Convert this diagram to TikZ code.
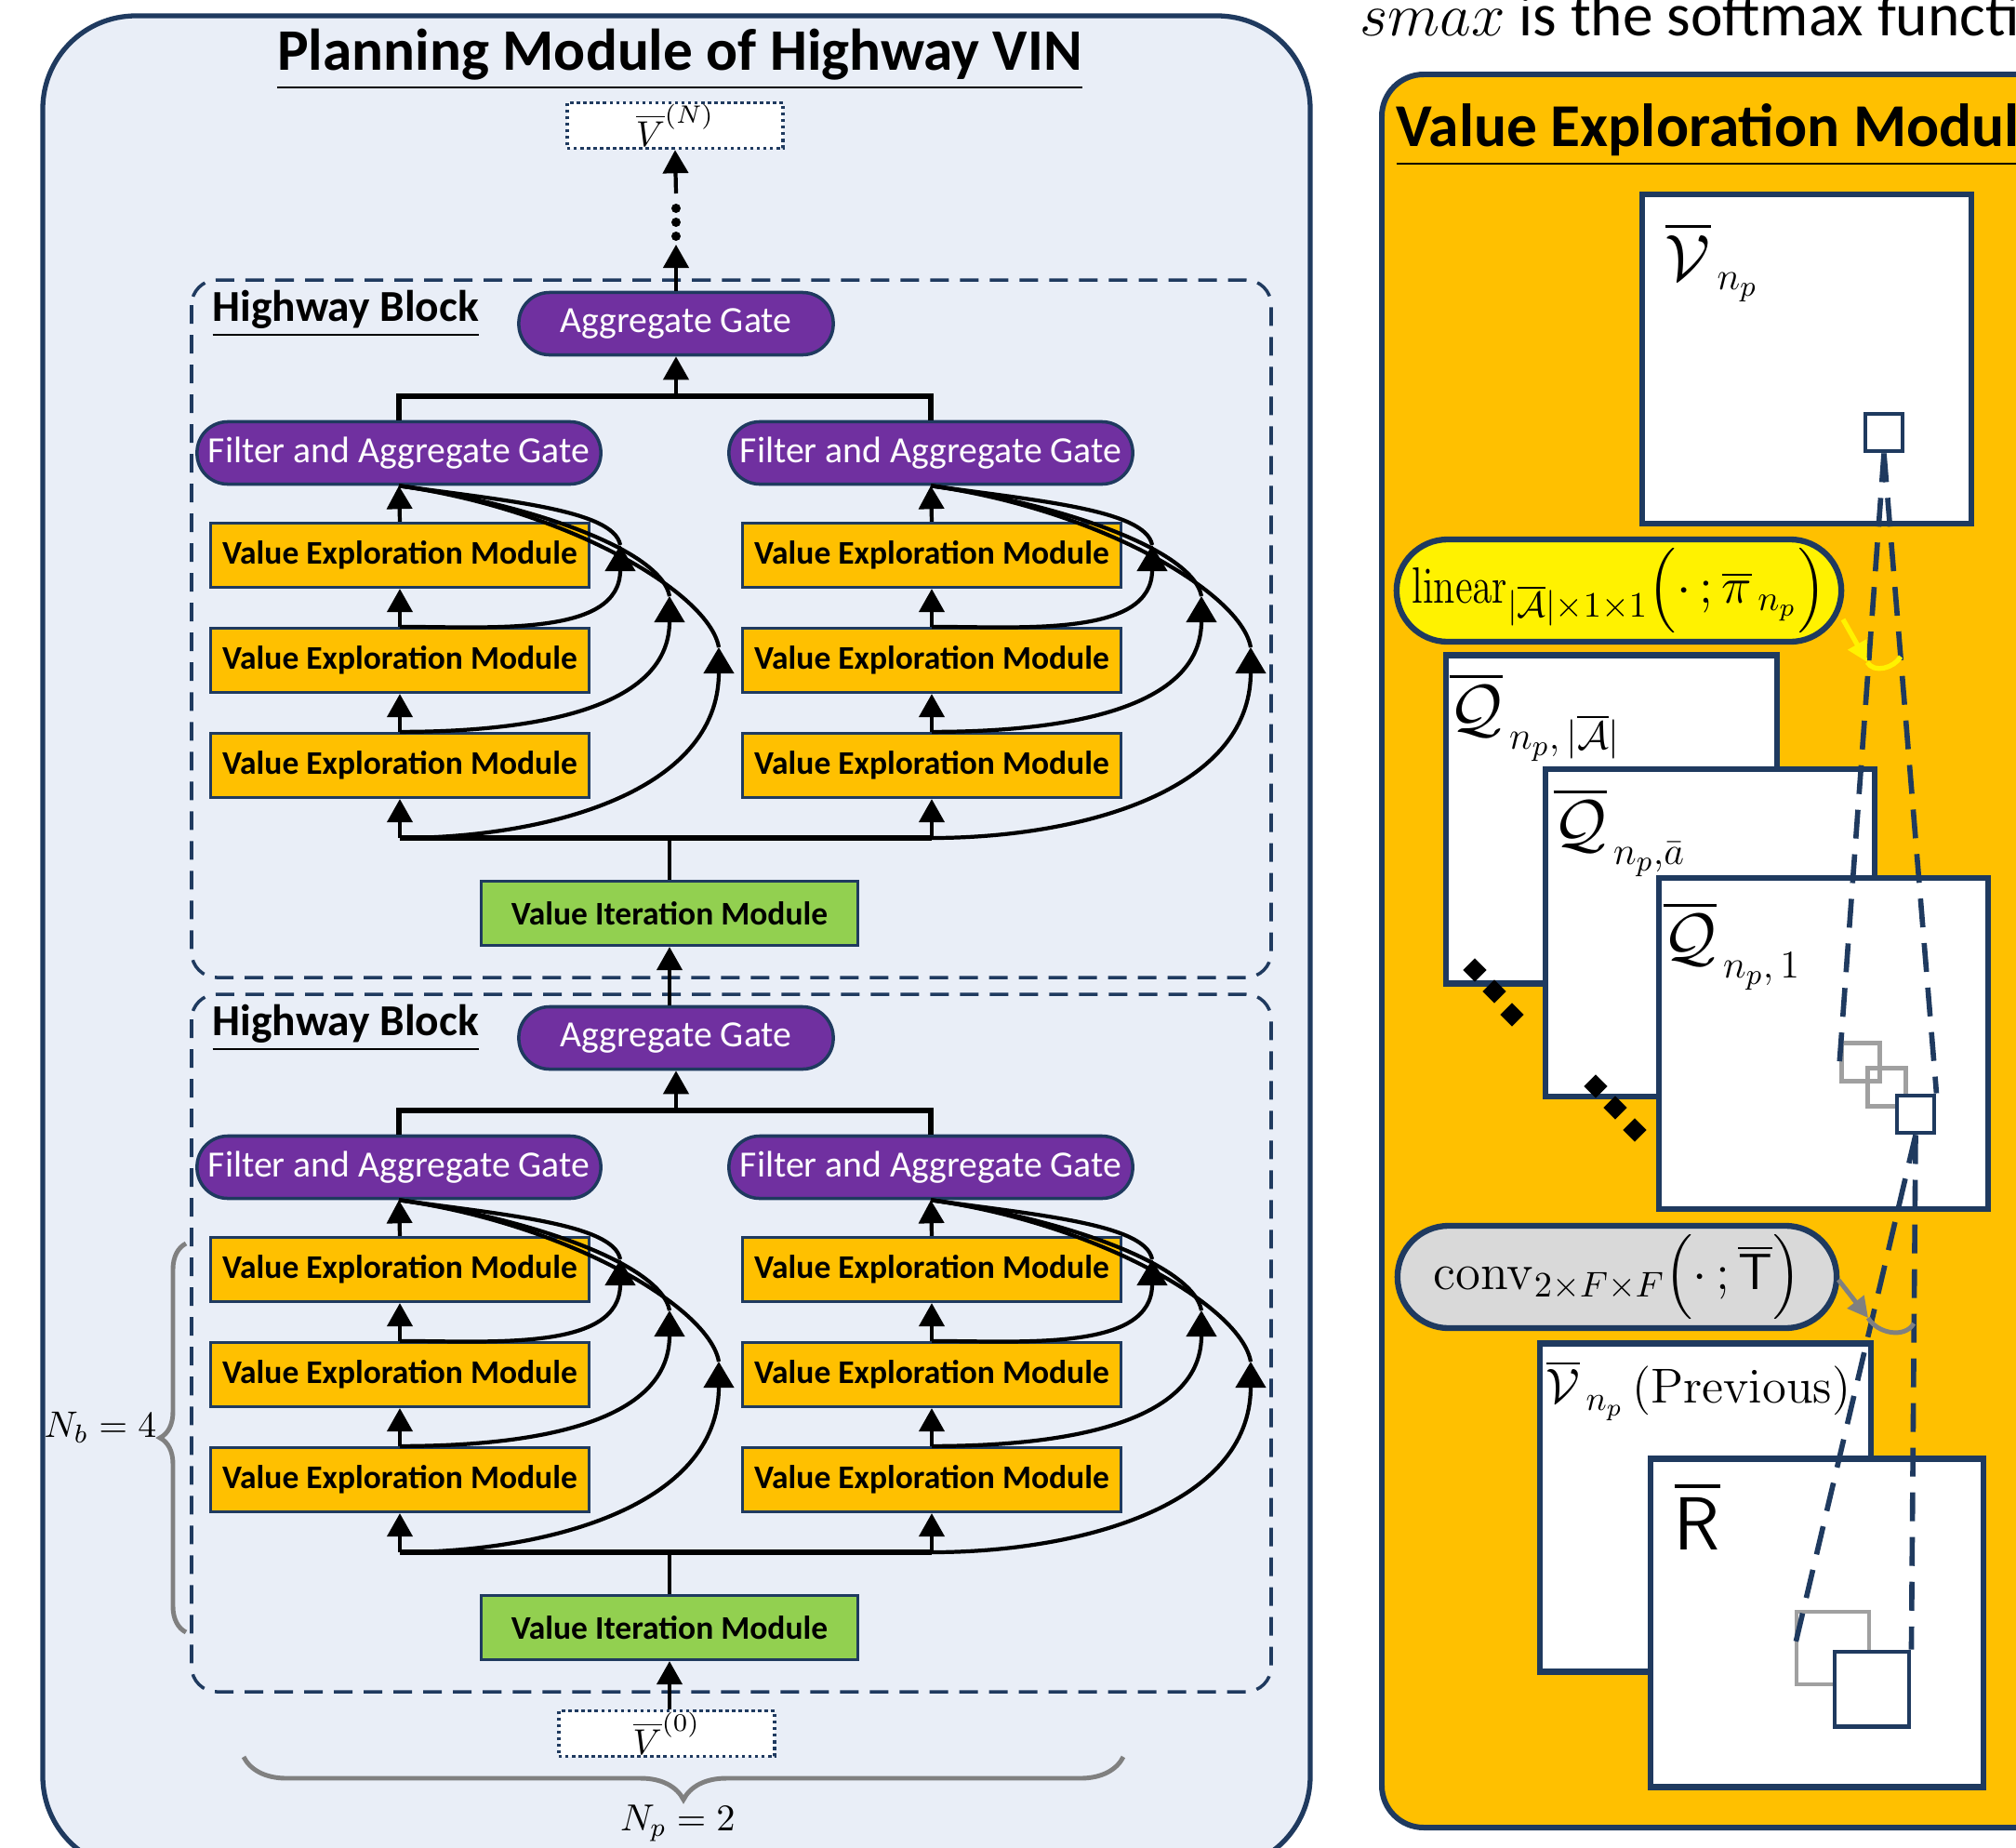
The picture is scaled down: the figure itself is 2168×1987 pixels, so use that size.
\RequirePackage{fix-cm}
\documentclass[tikz,border=0pt]{standalone}
\usepackage{amsmath}
\usepackage{graphicx}
\usepackage[no-math]{fontspec}
\setmainfont{Carlito}
\usetikzlibrary{arrows.meta,shapes.geometric,decorations.pathreplacing}
\definecolor{navy}{HTML}{1F3A5F}
\definecolor{panelblue}{HTML}{E9EEF7}
\definecolor{gatepurple}{HTML}{7030A0}
\definecolor{modorange}{HTML}{FFC000}
\definecolor{modgreen}{HTML}{92D050}
\definecolor{pillgray}{HTML}{D9D9D9}
\definecolor{bracegray}{HTML}{808080}
\DeclareMathSizes{20}{20}{12}{9}
\newcommand{\lsub}[1]{_{\raisebox{-0.3ex}{$\scriptstyle #1$}}}

\begin{document}
\begin{tikzpicture}[x=0.01cm,y=-0.01cm]
  \tikzstyle{gate}=[draw=navy,line width=1pt,fill=gatepurple,text=white,rounded corners=0.33cm,
    minimum height=0.67cm,inner sep=0pt,font=\fontsize{11.3}{13}\selectfont]
  \tikzstyle{vem}=[draw=navy,line width=0.9pt,fill=modorange,minimum width=4.06cm,minimum height=0.69cm,
    inner sep=0pt,font=\fontsize{10.1}{12}\selectfont\bfseries]
  \tikzstyle{vim}=[vem,fill=modgreen,minimum width=4.05cm]
  \tikzstyle{vbox}=[draw=navy,densely dotted,line width=1pt,fill=white,minimum width=2.32cm,
    minimum height=0.49cm,inner sep=0pt,font=\fontsize{11}{12}\selectfont]
  \tikzstyle{arr}=[line width=1.2pt,-{Triangle[length=0.25cm,width=0.27cm]}]
  \tikzstyle{skiparr}=[line width=1.2pt,-{Triangle[length=0.28cm,width=0.32cm]}]
  \tikzstyle{bus}=[line width=1.7pt]
  \tikzstyle{skip}=[line width=1.2pt,out=100,in=-8,out looseness=0.4,in looseness=1.2]
  \tikzstyle{hblock}=[draw=navy,line width=1pt,dash pattern=on 0.2cm off 0.12cm,rounded corners=0.27cm]
  \tikzstyle{mapbox}=[draw=navy,line width=1.8pt,fill=white,inner sep=0pt]
  \tikzstyle{cell}=[draw=navy,line width=1.4pt,fill=white,inner sep=0pt]
  \tikzstyle{graycell}=[draw=bracegray!75,line width=1.3pt,inner sep=0pt]
  \tikzstyle{ray}=[draw=navy,line width=1.6pt,dash pattern=on 0.31cm off 0.17cm]
  \tikzstyle{dotmark}=[diamond,fill=black,inner sep=0pt,minimum size=0.26cm]
  \tikzstyle{braceline}=[draw=bracegray,line width=1.4pt,decorate]
  \tikzstyle{maplabel}=[anchor=north west,inner sep=0pt]

  \useasboundingbox (0,0) rectangle (2168,1987);

  % left panel
  \draw[draw=navy,line width=1.5pt,fill=panelblue,rounded corners=1cm] (46,17) rectangle (1409,2010);
  \node[anchor=base,font=\fontsize{18}{21}\selectfont\bfseries] (title) at (731,75)
    {\underline{Planning Module of Highway VIN}};
  \node[vbox] (vN) at (726,135) {$\overline{V}^{(N)}$};

  \foreach \b/\dy in {1/0,2/768}{
    \begin{scope}[shift={(0,\dy)}]
      \draw[hblock] (206,301) rectangle (1367,1051);
      \node[anchor=base west,inner sep=0pt,font=\fontsize{13.5}{15}\selectfont\bfseries] (hbt\b) at (228,345)
        {\underline{Highway Block}};
      \node[gate,minimum width=3.38cm] (ag\b) at (727,348) {Aggregate Gate};
      \node[gate,minimum width=4.34cm] (fl\b) at (429,487) {Filter and Aggregate Gate};
      \node[gate,minimum width=4.34cm] (fr\b) at (1001,487) {Filter and Aggregate Gate};
      \node[vem] (la\b) at (430,597) {Value Exploration Module};
      \node[vem] (lb\b) at (430,710) {Value Exploration Module};
      \node[vem] (lc\b) at (430,823) {Value Exploration Module};
      \node[vem] (ra\b) at (1002,597) {Value Exploration Module};
      \node[vem] (rb\b) at (1002,710) {Value Exploration Module};
      \node[vem] (rc\b) at (1002,823) {Value Exploration Module};
      \node[vim] (vim\b) at (720,982) {Value Iteration Module};
      % gates
      \coordinate (tm\b) at (727,426);
      \coordinate (tr\b) at (1001,426);
      \draw[bus] (fl\b.north) |- (tr\b) -- (fr\b.north);
      \draw[arr] (tm\b) -- (ag\b.south);
      % bus from value iteration
      \coordinate (bl\b) at (430,901);
      \coordinate (bm\b) at (720,901);
      \coordinate (br\b) at (1002,901);
      \draw[bus] (bl\b) -- (br\b);
      \draw[line width=1.2pt] (vim\b.north) -- (bm\b);
      \draw[arr] (bl\b) -- (lc\b.south);
      \draw[arr] (br\b) -- (rc\b.south);
      \draw[arr] (lc\b.north) -- (lb\b.south);
      \draw[arr] (lb\b.north) -- (la\b.south);
      \draw[arr] (la\b.north) -- (fl\b.south);
      \draw[arr] (rc\b.north) -- (rb\b.south);
      \draw[arr] (rb\b.north) -- (ra\b.south);
      \draw[arr] (ra\b.north) -- (fr\b.south);
      % skip connections
      \coordinate (ka\b) at (667,586);
      \coordinate (kb\b) at (720,641);
      \coordinate (kc\b) at (773,696);
      \coordinate (qa\b) at (1239,586);
      \coordinate (qb\b) at (1292,641);
      \coordinate (qc\b) at (1345,696);
      \draw[skiparr] (lb\b.north) to[out=0,in=-90] (ka\b);
      \draw[skiparr] (lc\b.north) to[out=0,in=-90] (kb\b);
      \draw[skiparr] (bl\b) to[out=0,in=-90] (kc\b);
      \draw[skip] (ka\b) to (fl\b.south);
      \draw[skip] (kb\b) to (fl\b.south);
      \draw[skip] (kc\b) to (fl\b.south);
      \draw[skiparr] (rb\b.north) to[out=0,in=-90] (qa\b);
      \draw[skiparr] (rc\b.north) to[out=0,in=-90] (qb\b);
      \draw[skiparr] (br\b) to[out=0,in=-90] (qc\b);
      \draw[skip] (qa\b) to (fr\b.south);
      \draw[skip] (qb\b) to (fr\b.south);
      \draw[skip] (qc\b) to (fr\b.south);
    \end{scope}
  }

  % between blocks and to the output
  \draw[arr] (vim1.south |- ag2.north) -- (vim1.south);
  \coordinate (up1) at (727,263);
  \coordinate (up2) at (727,208);
  \draw[arr] (ag1.north) -- (up1);
  \fill (727,224) circle (0.05cm) (727,239) circle (0.05cm) (727,254) circle (0.05cm);
  \draw[arr] (up2) -- (vN.south);
  \node[vbox] (v0) at (717,1864) {$\overline{V}^{(0)}$};
  \draw[arr] (vim2.south |- v0.north) -- (vim2.south);

  % braces
  \draw[braceline,decoration={brace,amplitude=0.28cm}] (200,1755) -- (200,1337);
  \node[font=\fontsize{11.3}{13}\selectfont] (nb) at (108,1535) {$N_b=4$};
  \draw[braceline,decoration={brace,amplitude=0.46cm}] (1208,1889) -- (262,1889);
  \node[font=\fontsize{11.5}{13}\selectfont] (np) at (729,1960) {$N_p=2$};

  % right panel
  \node[anchor=base west,inner sep=0pt,font=\fontsize{18.6}{22}\selectfont] (smax) at (1462,38)
    {$smax$ is the softmax function};
  \draw[draw=navy,line width=1.7pt,fill=modorange,rounded corners=0.45cm] (1486,80) rectangle (2400,1965);
  \node[anchor=base west,inner sep=0pt,font=\fontsize{18.6}{22}\selectfont\bfseries] (vtitle) at (1501,157)
    {\underline{Value Exploration Module}};

  \node[mapbox,minimum width=3.54cm,minimum height=3.54cm] (vmap) at (1943,386) {};
  \node[maplabel,font=\fontsize{20}{24}\selectfont] (vlab) at (1790,238)
    {$\overline{\mathcal{V}}_{\,n_p}$};
  \node[cell,minimum size=0.4cm] (vsq) at (2026,465) {};

  \node[draw=navy,line width=1.8pt,fill=yellow,rounded corners=0.55cm,minimum width=4.78cm,
    minimum height=1.1cm,inner sep=0pt,font=\fontsize{15.6}{18}\selectfont] (lin) at (1741,635)
    {$\text{\scalebox{0.78}[1]{$\mathrm{linear}$}}_{|\overline{\mathcal{A}}|\times1\times1}\Big(\cdot\,;\overline{\pi}_{\,n_p}\Big)$};

  \node[mapbox,minimum width=3.56cm,minimum height=3.53cm] (qA) at (1733,881) {};
  \node[mapbox,minimum width=3.54cm,minimum height=3.52cm] (qa) at (1839,1003) {};
  \node[mapbox,minimum width=3.54cm,minimum height=3.56cm] (q1) at (1961,1122) {};
  \node[maplabel,font=\fontsize{20}{24}\selectfont] (qAlab) at (1558,722)
    {$\overline{\mathcal{Q}}\lsub{\,n_p,\,|\overline{\mathcal{A}}|}$};
  \node[maplabel,font=\fontsize{20}{24}\selectfont] (qalab) at (1670,846)
    {$\overline{\mathcal{Q}}\lsub{\,n_p,\bar{a}}$};
  \node[maplabel,font=\fontsize{20}{24}\selectfont] (q1lab) at (1788,968)
    {$\overline{\mathcal{Q}}\lsub{\,n_p,\,1}$};
  \node[dotmark] (da1) at (1586,1043) {};
  \node[dotmark] (da2) at (1607,1066) {};
  \node[dotmark] (da3) at (1626,1091) {};
  \node[dotmark] (db1) at (1716,1168) {};
  \node[dotmark] (db2) at (1737,1191) {};
  \node[dotmark] (db3) at (1758,1215) {};
  \node[graycell,minimum size=0.41cm] (qg1) at (2001,1142) {};
  \node[graycell,minimum size=0.41cm] (qg2) at (2029,1169) {};
  \node[cell,minimum size=0.4cm] (qsq) at (2060,1198) {};

  \node[draw=navy,line width=1.8pt,fill=pillgray,rounded corners=0.55cm,minimum width=4.72cm,
    minimum height=1.1cm,inner sep=0pt,font=\fontsize{15.6}{18}\selectfont] (conv) at (1739,1373)
    {$\mathrm{conv}_{2\times F\times F}\Big(\cdot\,;\overline{\mathsf{T}}\Big)$};

  \node[mapbox,minimum width=3.56cm,minimum height=3.53cm] (vprev) at (1834,1621) {};
  \node[maplabel,font=\fontsize{15}{18}\selectfont] (vprevlab) at (1662,1462)
    {$\overline{\mathcal{V}}_{\,n_p}\,\mathrm{(Previous)}$};
  \node[mapbox,minimum width=3.58cm,minimum height=3.53cm] (rmap) at (1954,1745) {};
  \node[maplabel,font=\fontsize{23}{26}\selectfont] (rlab) at (1800,1592)
    {$\overline{\mathsf{R}}$};
  \node[graycell,minimum size=0.78cm] (rg) at (1971,1772) {};
  \node[cell,minimum size=0.8cm] (rsq) at (2013,1816) {};

  % receptive field rays
  \draw[ray] (vsq.south) -- (qg1.west);
  \draw[ray] (vsq.south) -- (qsq.north east);
  \draw[ray] (qsq.south) -- (rg.west);
  \draw[ray] (qsq.south) -- (rsq.north east);

  % operation markers
  \coordinate (ystart) at (1982,666);
  \coordinate (ytip) at (2008,712);
  \coordinate (yend) at (2044,706);
  \draw[draw=yellow,line width=1.5pt,-{Triangle[length=0.22cm,width=0.22cm]}] (ystart) -- (ytip);
  \draw[draw=yellow,line width=1.5pt] (ytip) to[out=-60,in=-120] (yend);
  \coordinate (gstart) at (1977,1376);
  \coordinate (gtip) at (2009,1417);
  \coordinate (gend) at (2058,1423);
  \draw[draw=bracegray,line width=1.4pt,-{Triangle[length=0.22cm,width=0.22cm]}] (gstart) -- (gtip);
  \draw[draw=bracegray,line width=1.4pt] (gtip) to[out=-60,in=-120] (gend);
\end{tikzpicture}
\end{document}
